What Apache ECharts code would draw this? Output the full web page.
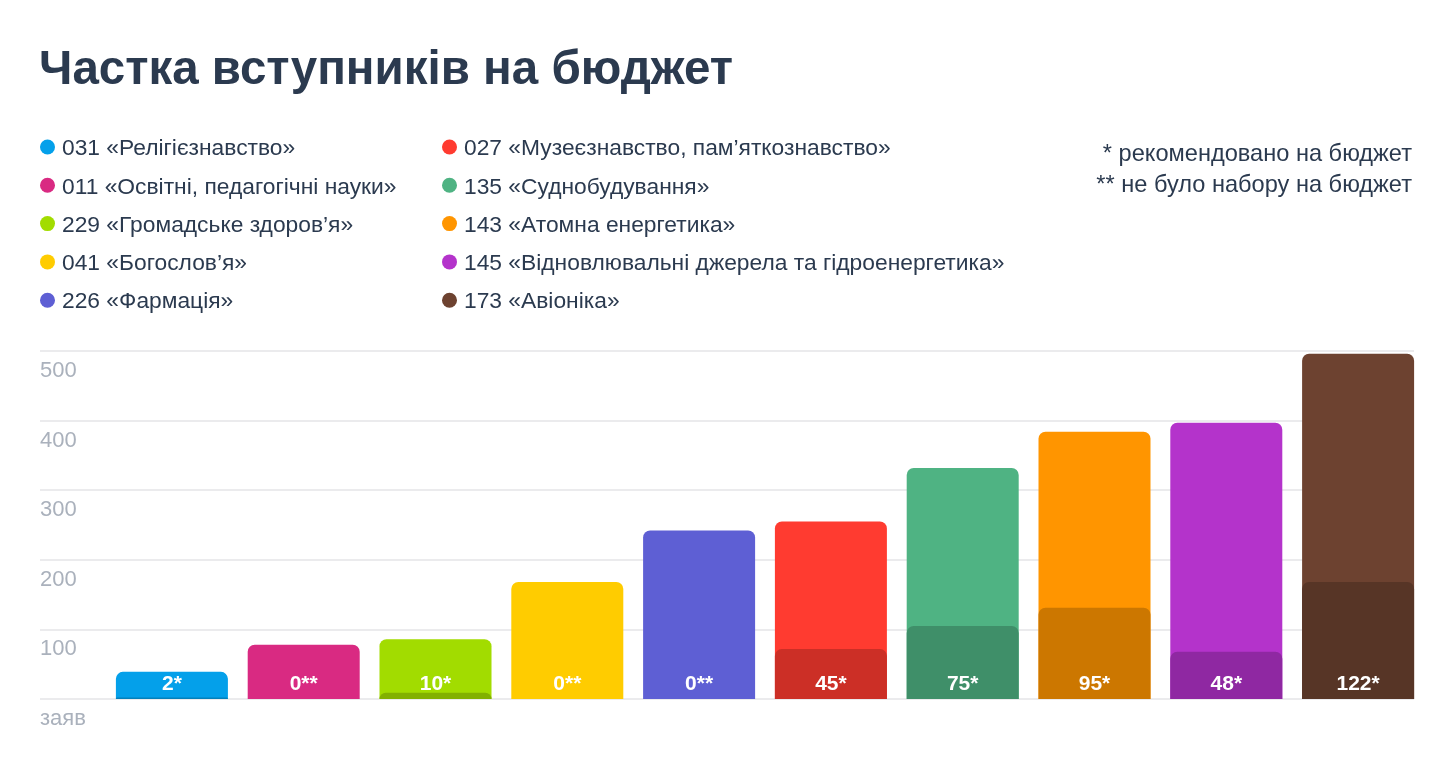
<!DOCTYPE html>
<html><head><meta charset="utf-8">
<script src="https://cdn.jsdelivr.net/npm/echarts@6/dist/echarts.min.js"></script>
<style>html,body{margin:0;padding:0;background:#fff}#c{width:1454px;height:760px}</style>
</head><body><div id="c"></div>
<script>
const categories = ['031 «Релігієзнавство»','011 «Освітні, педагогічні науки»','229 «Громадське здоров’я»','041 «Богослов’я»','226 «Фармація»','027 «Музеєзнавство, пам’яткознавство»','135 «Суднобудування»','143 «Атомна енергетика»','145 «Відновлювальні джерела та гідроенергетика»','173 «Авіоніка»'];
const applications = [39, 78, 86, 168, 242, 255, 332, 384, 397, 496];
const budgetBars = [2, 0, 9, 0, 0, 72, 105, 131, 68, 168];
const budgetLabels = ['2*','0**','10*','0**','0**','45*','75*','95*','48*','122*'];
const colors = ['#04a0ea','#d92a82','#a2dc00','#ffcc00','#5e5fd4','#ff3b30','#4fb383','#ff9500','#b433cb','#6d4230'];
const darkColors = ['#0380bb','#ad2268','#82b000','#cca300','#4b4caa','#cc2f26','#3f8f69','#cc7700','#8f28a2','#573526'];
const yTicks = [0, 100, 200, 300, 400, 500];
const notes = ['* рекомендовано на бюджет', '** не було набору на бюджет'];
const title = 'Частка вступників на бюджет';

const FONT = '"Liberation Sans", Arial, sans-serif';
const TXT = '#2b3a4f';
const chart = echarts.init(document.getElementById('c'), null, {renderer:'canvas'});

const graphic = [{
  type:'text', x:39, y:71,
  style:{text:title, font:'bold 47.5px '+FONT, fill:TXT, verticalAlign:'middle'}
}];
categories.forEach((c,i)=>{
  const col = Math.floor(i/5), row = i%5;
  const x = col===0 ? 40 : 442;
  const y = 147 + row*38.3;
  graphic.push({type:'circle', shape:{cx:x+7.5, cy:y, r:7.5}, style:{fill:colors[i]}});
  graphic.push({type:'text', x:x+22, y:y+2, style:{text:c, font:'22.8px '+FONT, fill:TXT, verticalAlign:'middle'}});
});
notes.forEach((n,i)=>{
  graphic.push({type:'text', x:1412, y:154+i*31, style:{text:n, font:'23.6px '+FONT, fill:TXT, align:'right', verticalAlign:'middle'}});
});

chart.setOption({
  animation:false,
  textStyle:{fontFamily:FONT},
  graphic: graphic,
  grid:[
    {left:40, right:40, top:351, bottom:61},
    {left:106, right:30, top:351, bottom:61}
  ],
  xAxis:[
    {type:'category', gridIndex:0, data:categories, show:false},
    {type:'category', gridIndex:1, data:categories, show:false}
  ],
  yAxis:[
    {type:'value', gridIndex:0, min:yTicks[0], max:yTicks[yTicks.length-1], interval:100,
     axisLine:{show:false}, axisTick:{show:false},
     splitLine:{lineStyle:{color:'#e4e4e7', width:1.5}},
     axisLabel:{inside:true, margin:0, verticalAlign:'top', padding:[9,0,0,0], color:'#aab1bc', fontSize:22, fontFamily:FONT,
       formatter:v=> v===0 ? 'заяв' : String(v)}},
    {type:'value', gridIndex:1, min:0, max:500, interval:100, show:false, splitLine:{show:false}}
  ],
  series:[
    {type:'bar', xAxisIndex:1, yAxisIndex:1, barWidth:112, z:2,
     data: applications.map((v,i)=>({value:v, itemStyle:{color:colors[i], borderRadius:[7,7,0,0]}}))},
    {type:'bar', xAxisIndex:1, yAxisIndex:1, barWidth:112, barGap:'-100%', z:3,
     data: budgetBars.map((v,i)=>({value:v, itemStyle:{color:darkColors[i], borderRadius:[7,7,0,0]}})),
     label:{show:true, position:'insideBottom', distance:4, color:'#fff', fontSize:21, fontWeight:'bold', fontFamily:FONT,
       formatter:p=>budgetLabels[p.dataIndex]}}
  ]
});
</script></body></html>
